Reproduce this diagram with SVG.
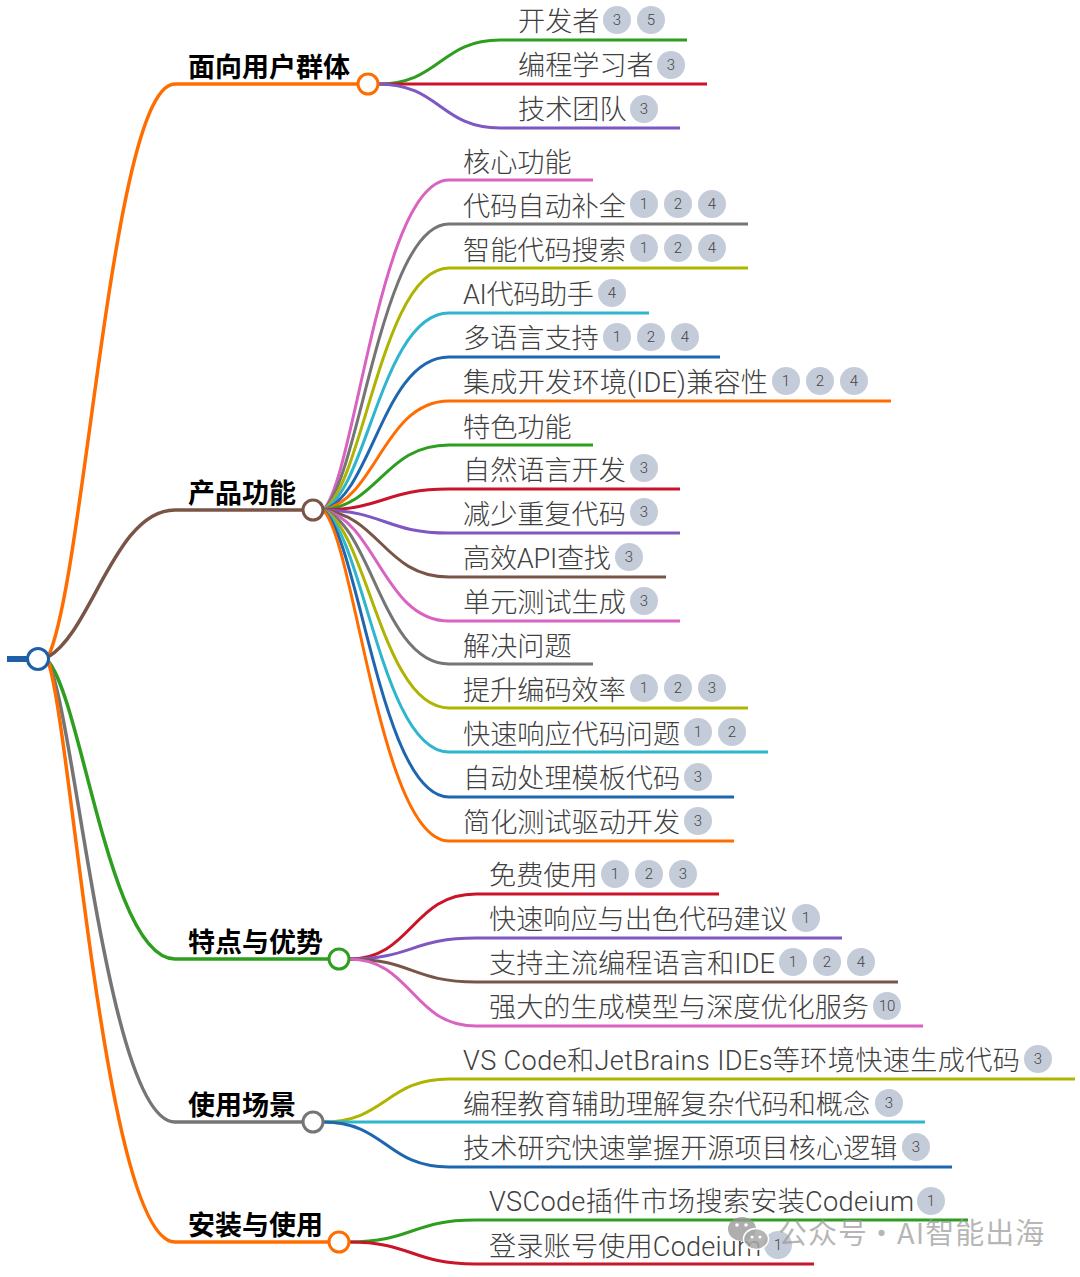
<svg xmlns="http://www.w3.org/2000/svg" width="1080" height="1277" viewBox="0 0 1080 1277">
<style>
text{font-family:Roboto,"Noto Sans CJK SC",sans-serif}
.t{font-size:27.15px;font-weight:300;fill:#404040}
.h{font-size:27px;font-weight:700;fill:#000;font-family:"Noto Sans CJK SC",sans-serif}
.n{font-size:15px;font-weight:300;fill:#444;text-anchor:middle}
.b{fill:#c5ccd9}
.c{fill:#fff;stroke-width:3}
.l{fill:none;stroke-width:3}
.r{fill:none;stroke-width:3.5}
.w{font-size:29px;fill:#9a9a9a;fill-opacity:.72;font-family:"Noto Sans CJK SC",sans-serif;letter-spacing:1px}
.G{stroke:#2e9e1f}.R{stroke:#c9142a}.P{stroke:#7e57c2}.K{stroke:#d863c0}.Y{stroke:#757575}.O{stroke:#afb400}.C{stroke:#2fb5ce}.B{stroke:#1f66b0}.A{stroke:#ff6d00}.W{stroke:#795548}
</style>
<g id="connectors">
<path d="M7 659H28" fill="none" stroke="#1f5fa8" stroke-width="6"/>
<path class="r A" d="M48 657C85 580 112 84 175 84H358"/>
<path class="r W" d="M48 657C92 632 115 510 175 510H303"/>
<path class="r G" d="M48 661C82 700 110 959 175 959H329"/>
<path class="r Y" d="M48 661C76 720 108 1122 175 1122H303"/>
<path class="r A" d="M48 661C72 730 105 1242 175 1242H329"/>
<path class="l G" d="M378 84C440 84 440 40 500 40H687"/>
<path class="l R" d="M378 84H707"/>
<path class="l P" d="M378 84C440 84 440 128 500 128H680"/>
<path class="l K" d="M323 510C355 480 380 180 449 180H593"/>
<path class="l Y" d="M323 510C359 484 381 224 449 224H748"/>
<path class="l O" d="M323 510C363 488 382 268 449 268H748"/>
<path class="l C" d="M323 510C367 492 382 313 449 313H649"/>
<path class="l B" d="M323 510C372 496 383 357 449 357H720"/>
<path class="l A" d="M323 510C376 500 384 401 449 401H891"/>
<path class="l G" d="M323 510C380 504 385 445 449 445H593"/>
<path class="l R" d="M323 510C384 509 386 489 449 489H680"/>
<path class="l P" d="M323 510C384 511 386 533 449 533H680"/>
<path class="l W" d="M323 510C380 516 385 577 449 577H666"/>
<path class="l K" d="M323 510C376 520 384 621 449 621H680"/>
<path class="l Y" d="M323 510C371 524 383 664 449 664H593"/>
<path class="l O" d="M323 510C367 528 382 708 449 708H748"/>
<path class="l C" d="M323 510C363 532 382 752 449 752H768"/>
<path class="l B" d="M323 510C359 536 381 797 449 797H734"/>
<path class="l A" d="M323 510C355 540 380 841 449 841H734"/>
<path class="l R" d="M349 959C412 959 412 894 476 894H719"/>
<path class="l P" d="M349 959C412 959 412 938 476 938H842"/>
<path class="l W" d="M349 959C412 959 412 982 476 982H898"/>
<path class="l K" d="M349 959C412 959 412 1026 476 1026H923"/>
<path class="l O" d="M323 1122C386 1122 386 1079 449 1079H1075"/>
<path class="l C" d="M323 1122H925"/>
<path class="l B" d="M323 1122C386 1122 386 1167 449 1167H952"/>
<path class="l G" d="M349 1242C412 1242 412 1220 475 1220H968"/>
<path class="l R" d="M349 1242C412 1242 412 1264 475 1264H814"/>
</g>
<g id="root"><circle class="c" cx="38" cy="659" r="10.5" stroke="#1f5fa8"/></g>
<g id="n1"><text class="h" x="188" y="77">面向用户群体</text><circle class="c A" cx="368" cy="84" r="10"/></g>
<g id="n2"><text class="h" x="188" y="503">产品功能</text><circle class="c W" cx="313" cy="510" r="10"/></g>
<g id="n3"><text class="h" x="188" y="952">特点与优势</text><circle class="c G" cx="339" cy="959" r="10"/></g>
<g id="n4"><text class="h" x="188" y="1115">使用场景</text><circle class="c Y" cx="313" cy="1122" r="10"/></g>
<g id="n5"><text class="h" x="188" y="1235">安装与使用</text><circle class="c A" cx="339" cy="1242" r="10"/></g>
<g id="a1"><text class="t" x="518" y="31">开发者</text><circle class="b" cx="617" cy="20" r="14"/><text class="n" x="617" y="25">3</text><circle class="b" cx="651" cy="20" r="14"/><text class="n" x="651" y="25">5</text></g>
<g id="a2"><text class="t" x="518" y="75">编程学习者</text><circle class="b" cx="671" cy="65" r="14"/><text class="n" x="671" y="70">3</text></g>
<g id="a3"><text class="t" x="518" y="119">技术团队</text><circle class="b" cx="644" cy="109" r="14"/><text class="n" x="644" y="114">3</text></g>
<g id="b1"><text class="t" x="463" y="172">核心功能</text></g>
<g id="b2"><text class="t" x="463" y="216">代码自动补全</text><circle class="b" cx="644" cy="204" r="14"/><text class="n" x="644" y="209">1</text><circle class="b" cx="678" cy="204" r="14"/><text class="n" x="678" y="209">2</text><circle class="b" cx="712" cy="204" r="14"/><text class="n" x="712" y="209">4</text></g>
<g id="b3"><text class="t" x="463" y="260">智能代码搜索</text><circle class="b" cx="644" cy="248" r="14"/><text class="n" x="644" y="253">1</text><circle class="b" cx="678" cy="248" r="14"/><text class="n" x="678" y="253">2</text><circle class="b" cx="712" cy="248" r="14"/><text class="n" x="712" y="253">4</text></g>
<g id="b4"><text class="t" x="463" y="304" textLength="131">AI代码助手</text><circle class="b" cx="612" cy="293" r="14"/><text class="n" x="612" y="298">4</text></g>
<g id="b5"><text class="t" x="463" y="348">多语言支持</text><circle class="b" cx="617" cy="337" r="14"/><text class="n" x="617" y="342">1</text><circle class="b" cx="651" cy="337" r="14"/><text class="n" x="651" y="342">2</text><circle class="b" cx="685" cy="337" r="14"/><text class="n" x="685" y="342">4</text></g>
<g id="b6"><text class="t" x="463" y="392" textLength="305">集成开发环境(IDE)兼容性</text><circle class="b" cx="786" cy="381" r="14"/><text class="n" x="786" y="386">1</text><circle class="b" cx="820" cy="381" r="14"/><text class="n" x="820" y="386">2</text><circle class="b" cx="854" cy="381" r="14"/><text class="n" x="854" y="386">4</text></g>
<g id="b7"><text class="t" x="463" y="437">特色功能</text></g>
<g id="b8"><text class="t" x="463" y="480">自然语言开发</text><circle class="b" cx="644" cy="468" r="14"/><text class="n" x="644" y="473">3</text></g>
<g id="b9"><text class="t" x="463" y="524">减少重复代码</text><circle class="b" cx="644" cy="512" r="14"/><text class="n" x="644" y="517">3</text></g>
<g id="b10"><text class="t" x="463" y="568" textLength="148">高效API查找</text><circle class="b" cx="629" cy="557" r="14"/><text class="n" x="629" y="562">3</text></g>
<g id="b11"><text class="t" x="463" y="612">单元测试生成</text><circle class="b" cx="644" cy="601" r="14"/><text class="n" x="644" y="606">3</text></g>
<g id="b12"><text class="t" x="463" y="656">解决问题</text></g>
<g id="b13"><text class="t" x="463" y="700">提升编码效率</text><circle class="b" cx="644" cy="688" r="14"/><text class="n" x="644" y="693">1</text><circle class="b" cx="678" cy="688" r="14"/><text class="n" x="678" y="693">2</text><circle class="b" cx="712" cy="688" r="14"/><text class="n" x="712" y="693">3</text></g>
<g id="b14"><text class="t" x="463" y="744">快速响应代码问题</text><circle class="b" cx="698" cy="732" r="14"/><text class="n" x="698" y="737">1</text><circle class="b" cx="732" cy="732" r="14"/><text class="n" x="732" y="737">2</text></g>
<g id="b15"><text class="t" x="463" y="788">自动处理模板代码</text><circle class="b" cx="698" cy="777" r="14"/><text class="n" x="698" y="782">3</text></g>
<g id="b16"><text class="t" x="463" y="832">简化测试驱动开发</text><circle class="b" cx="698" cy="821" r="14"/><text class="n" x="698" y="826">3</text></g>
<g id="c1"><text class="t" x="489" y="885">免费使用</text><circle class="b" cx="615" cy="874" r="14"/><text class="n" x="615" y="879">1</text><circle class="b" cx="649" cy="874" r="14"/><text class="n" x="649" y="879">2</text><circle class="b" cx="683" cy="874" r="14"/><text class="n" x="683" y="879">3</text></g>
<g id="c2"><text class="t" x="489" y="929">快速响应与出色代码建议</text><circle class="b" cx="806" cy="918" r="14"/><text class="n" x="806" y="923">1</text></g>
<g id="c3"><text class="t" x="489" y="973" textLength="286">支持主流编程语言和IDE</text><circle class="b" cx="793" cy="962" r="14"/><text class="n" x="793" y="967">1</text><circle class="b" cx="827" cy="962" r="14"/><text class="n" x="827" y="967">2</text><circle class="b" cx="861" cy="962" r="14"/><text class="n" x="861" y="967">4</text></g>
<g id="c4"><text class="t" x="489" y="1017">强大的生成模型与深度优化服务</text><circle class="b" cx="887" cy="1006" r="14"/><text class="n" x="887" y="1011">10</text></g>
<g id="d1"><text class="t" x="463" y="1070" textLength="557">VS Code和JetBrains IDEs等环境快速生成代码</text><circle class="b" cx="1038" cy="1059" r="14"/><text class="n" x="1038" y="1064">3</text></g>
<g id="d2"><text class="t" x="463" y="1114">编程教育辅助理解复杂代码和概念</text><circle class="b" cx="889" cy="1103" r="14"/><text class="n" x="889" y="1108">3</text></g>
<g id="d3"><text class="t" x="463" y="1158">技术研究快速掌握开源项目核心逻辑</text><circle class="b" cx="916" cy="1147" r="14"/><text class="n" x="916" y="1152">3</text></g>
<g id="e1"><text class="t" x="489" y="1211" textLength="425">VSCode插件市场搜索安装Codeium</text><circle class="b" cx="931" cy="1201" r="14"/><text class="n" x="931" y="1206">1</text></g>
<g id="e2"><text class="t" x="489" y="1256" textLength="272">登录账号使用Codeium</text><circle class="b" cx="778" cy="1245" r="14"/><text class="n" x="778" y="1250">1</text></g>
<g id="watermark">
<ellipse cx="742" cy="1229" rx="14" ry="12" fill="#9a9a9a" fill-opacity=".8"/>
<ellipse cx="756" cy="1239" rx="12.5" ry="10.5" fill="#a8a8a8" fill-opacity=".85" stroke="#fff" stroke-width="1.5"/>
<circle cx="737" cy="1225" r="1.8" fill="#fff"/><circle cx="746" cy="1225" r="1.8" fill="#fff"/>
<circle cx="752" cy="1237" r="1.5" fill="#fff"/><circle cx="760" cy="1237" r="1.5" fill="#fff"/>
<text class="w" y="1244"><tspan x="778">公众号</tspan><tspan x="867">·</tspan><tspan x="897">AI智能出海</tspan></text>
</g>
</svg>
